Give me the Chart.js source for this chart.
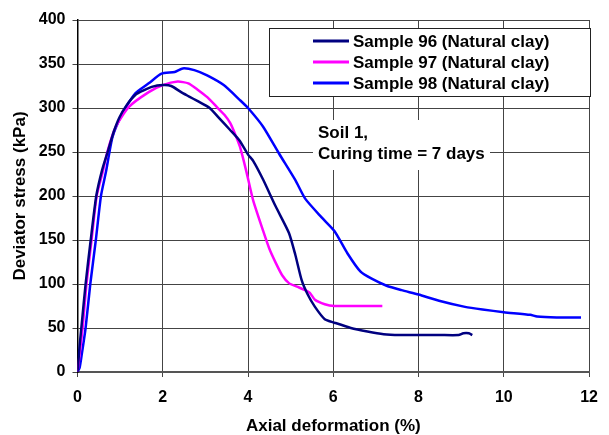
<!DOCTYPE html>
<html>
<head>
<meta charset="utf-8">
<script src="https://cdn.jsdelivr.net/npm/chart.js@4.4.1/dist/chart.umd.min.js"></script>
<style>
  html,body{margin:0;padding:0;background:#fff;}
  #wrap{width:609px;height:435px;}
</style>
</head>
<body>
<div id="wrap"><canvas id="chart" width="609" height="435"></canvas></div>
<script>
// ===== Data (axial deformation %, deviator stress kPa) =====
const labels96 = "Sample 96 (Natural clay)";
const strain96 = [0,0.05,0.1,0.19,0.31,0.44,0.58,0.72,0.85,0.98,1.15,1.36,1.55,1.74,2.0,2.2,2.43,2.62,2.81,3.1,3.35,3.58,3.8,4.0,4.12,4.35,4.65,4.96,5.11,5.26,5.4,5.57,5.8,6.03,6.41,6.8,7.18,7.56,8.0,8.5,8.94,9.05,9.18,9.26];
const stress96 = [0,30,55,100,150,200,230,252,273,289,303,315,320,324,326,325,318,313,308,300,287,275,263,247,240,219,188,158,133,104,88,74,60,56,50,46,43,42,42,42,42,44,44,42];

const labels97 = "Sample 97 (Natural clay)";
const strain97 = [0,0.05,0.12,0.21,0.33,0.45,0.59,0.71,0.9,1.2,1.67,2.0,2.35,2.6,2.81,3.05,3.27,3.45,3.58,3.7,3.81,3.96,4.12,4.35,4.5,4.65,4.8,4.96,5.15,5.34,5.45,5.57,5.8,6.03,6.5,7.15];
const stress97 = [0,20,50,100,150,200,227,252,279,301,318,326,330,328,321,312,301,292,283,270,256,228,195,161,140,124,110,101,97,93,90,82,77,75,75,75];

const labels98 = "Sample 98 (Natural clay)";
const strain98 = [0,0.05,0.1,0.19,0.3,0.43,0.55,0.67,0.82,1.05,1.2,1.36,1.67,1.97,2.28,2.47,2.74,3.04,3.43,3.81,4.0,4.35,4.73,5.11,5.34,5.72,6.03,6.33,6.64,6.9,7.25,7.6,8.0,8.48,9.09,9.5,10.0,10.62,10.78,11.24,11.81];
const stress98 = [0,5,20,50,100,150,200,228,267,294,306,317,328,339,341,345,343,337,326,309,300,279,248,218,197,176,160,135,114,106,98,93,88,81,74,71,68,65,63,62,62];

const noteLines = ["Soil 1,", "Curing time = 7 days"];

const FONT = "'Liberation Sans', Arial, sans-serif";

function toPoints(xs, ys){
  return xs.map((x,i)=>({x:x, y:ys[i]}));
}

// ===== Legend box & note drawn on the canvas =====
const boxesPlugin = {
  id:'boxes',
  beforeDatasetsDraw(chart){
    const ctx = chart.ctx;
    ctx.save();
    // note box hides the grid behind the text
    ctx.fillStyle = '#fff';
    ctx.fillRect(313, 120, 177, 50);
    ctx.fillStyle = '#000';
    ctx.font = 'bold 17px ' + FONT;
    ctx.textBaseline = 'middle';
    ctx.textAlign = 'left';
    ctx.fillText(noteLines[0], 318, 133);
    ctx.fillText(noteLines[1], 318, 154);
    ctx.restore();
  },
  afterDatasetsDraw(chart){
    const ctx = chart.ctx;
    ctx.save();
    ctx.fillStyle = '#fff';
    ctx.fillRect(269.5, 28.5, 321, 68);
    ctx.strokeStyle = '#222';
    ctx.lineWidth = 1;
    ctx.strokeRect(269.5, 28.5, 321, 68);
    const rows = [41, 62, 83];
    chart.data.datasets.forEach((ds,i)=>{
      ctx.strokeStyle = ds.borderColor;
      ctx.lineWidth = 3;
      ctx.beginPath();
      ctx.moveTo(313, rows[i]);
      ctx.lineTo(349, rows[i]);
      ctx.stroke();
      ctx.fillStyle = '#000';
      ctx.font = 'bold 17px ' + FONT;
      ctx.textBaseline = 'middle';
      ctx.fillText(ds.label, 353, rows[i] + 1);
    });
    ctx.restore();
  }
};

const ctx = document.getElementById("chart").getContext("2d");
new Chart(ctx,{
  type:'scatter',
  data:{
    datasets:[
      {label:labels96, data:toPoints(strain96,stress96), borderColor:'#000080', showLine:true, borderWidth:2.5, pointRadius:0, tension:0.2},
      {label:labels97, data:toPoints(strain97,stress97), borderColor:'#ff00ff', showLine:true, borderWidth:2.5, pointRadius:0, tension:0.2},
      {label:labels98, data:toPoints(strain98,stress98), borderColor:'#0000ff', showLine:true, borderWidth:2.5, pointRadius:0, tension:0.2}
    ]
  },
  options:{
    responsive:false,
    animation:false,
    layout:{padding:{top:20, right:9, left:0, bottom:0}},
    plugins:{legend:{display:false}, tooltip:{enabled:false}},
    scales:{
      x:{
        type:'linear', min:0, max:12,
        ticks:{stepSize:2, color:'#000', padding:11, font:{family:FONT, size:16, weight:'bold', lineHeight:1.2}},
        grid:{color:'#444', lineWidth:1, tickLength:5},
        border:{color:'#555', width:2},
        title:{display:true, text:'Axial deformation (%)', color:'#000', padding:{top:0,bottom:0}, font:{family:FONT, size:17, weight:'bold', lineHeight:1}},
        afterFit(scale){ scale.height = 63; }
      },
      y:{
        type:'linear', min:0, max:400,
        ticks:{stepSize:50, color:'#000', padding:7, font:{family:FONT, size:16, weight:'bold'}},
        grid:{color:'#444', lineWidth:1, tickLength:5},
        border:{color:'#000', width:1.5},
        title:{display:true, text:'Deviator stress (kPa)', color:'#000', padding:{top:11.5,bottom:0}, font:{family:FONT, size:17, weight:'bold', lineHeight:1}},
        afterFit(scale){ scale.width = 77.5; }
      }
    }
  },
  plugins:[boxesPlugin]
});
</script>
</body>
</html>
